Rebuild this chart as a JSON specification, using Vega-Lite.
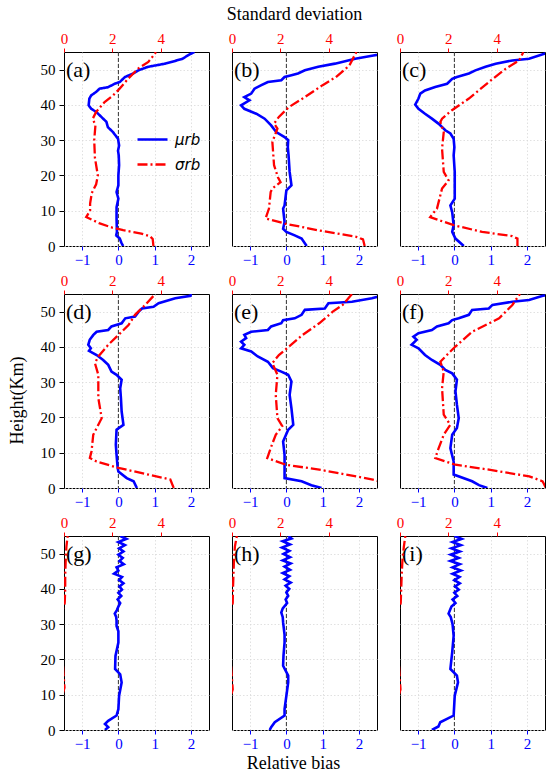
{
"$schema":"https://vega.github.io/schema/vega-lite/v6.json",
"background":"white",
"padding":{"left":7,"top":4,"right":5,"bottom":2},
"config":{"font":"Liberation Serif","view":{"stroke":"black","strokeWidth":1},
"axis":{"labelFont":"Liberation Serif","labelFontSize":15,"titleFont":"Liberation Serif","titleFontSize":18,"titleFontWeight":"normal","titleColor":"black","labelColor":"black","tickColor":"black","tickSize":4,"labelPadding":2,"gridColor":"#d9d9d9","gridDash":[1.5,2],"gridWidth":0.8,"domain":false,"labelFlush":false,"titlePadding":8},
"axisY":{"labelPadding":4,"tickSize":5,"titlePadding":14}},
"datasets":{
"panels":[{"p":"a","t":"(a)"},{"p":"b","t":"(b)"},{"p":"c","t":"(c)"},{"p":"d","t":"(d)"},{"p":"e","t":"(e)"},{"p":"f","t":"(f)"},{"p":"g","t":"(g)"},{"p":"h","t":"(h)"},{"p":"i","t":"(i)"}],
"mu":[
{"p":"a","h":55,"v":2.1},{"p":"a","h":54.5,"v":2.0},{"p":"a","h":53,"v":1.75},{"p":"a","h":51.7,"v":1.29},{"p":"a","h":50.8,"v":0.82},{"p":"a","h":49.8,"v":0.55},{"p":"a","h":48.9,"v":0.41},{"p":"a","h":47.9,"v":0.18},{"p":"a","h":46.5,"v":0.04},{"p":"a","h":46,"v":-0.1},{"p":"a","h":45,"v":-0.29},{"p":"a","h":44.6,"v":-0.52},{"p":"a","h":43.7,"v":-0.61},{"p":"a","h":42.7,"v":-0.75},{"p":"a","h":41.8,"v":-0.8},{"p":"a","h":39.9,"v":-0.82},{"p":"a","h":38.9,"v":-0.75},{"p":"a","h":38,"v":-0.61},{"p":"a","h":36.6,"v":-0.47},{"p":"a","h":35.2,"v":-0.33},{"p":"a","h":33.7,"v":-0.29},{"p":"a","h":32.3,"v":-0.15},{"p":"a","h":30.4,"v":-0.01},{"p":"a","h":28.5,"v":0.02},{"p":"a","h":27,"v":-0.01},{"p":"a","h":25.7,"v":0.01},{"p":"a","h":22.9,"v":0.02},{"p":"a","h":20,"v":0},{"p":"a","h":17.2,"v":0},{"p":"a","h":15.3,"v":-0.05},{"p":"a","h":13.4,"v":0},{"p":"a","h":11,"v":-0.05},{"p":"a","h":7.8,"v":-0.05},{"p":"a","h":4,"v":-0.04},{"p":"a","h":3,"v":-0.06},{"p":"a","h":2.1,"v":0.04},{"p":"a","h":1,"v":0.08},{"p":"a","h":0,"v":0.13},
{"p":"b","h":55,"v":2.9},{"p":"b","h":54,"v":2.4},{"p":"b","h":53.1,"v":1.9},{"p":"b","h":51.7,"v":1.34},{"p":"b","h":50.8,"v":0.88},{"p":"b","h":49.8,"v":0.51},{"p":"b","h":48.9,"v":0.32},{"p":"b","h":48.4,"v":0.14},{"p":"b","h":47.9,"v":-0.05},{"p":"b","h":47,"v":-0.14},{"p":"b","h":46.5,"v":-0.51},{"p":"b","h":45.6,"v":-0.69},{"p":"b","h":44.6,"v":-0.88},{"p":"b","h":43.2,"v":-0.97},{"p":"b","h":42.2,"v":-1.16},{"p":"b","h":41.3,"v":-1.02},{"p":"b","h":39.9,"v":-1.25},{"p":"b","h":38.9,"v":-1.16},{"p":"b","h":37.5,"v":-0.83},{"p":"b","h":36.1,"v":-0.6},{"p":"b","h":34.2,"v":-0.42},{"p":"b","h":32.3,"v":-0.28},{"p":"b","h":30.9,"v":-0.05},{"p":"b","h":30,"v":0.05},{"p":"b","h":28,"v":0.04},{"p":"b","h":25.7,"v":0.06},{"p":"b","h":21,"v":0.09},{"p":"b","h":17.2,"v":0.14},{"p":"b","h":15.8,"v":0},{"p":"b","h":11.5,"v":-0.05},{"p":"b","h":10.6,"v":-0.09},{"p":"b","h":6.8,"v":-0.05},{"p":"b","h":4.9,"v":-0.09},{"p":"b","h":4,"v":0},{"p":"b","h":3,"v":0.23},{"p":"b","h":2.1,"v":0.42},{"p":"b","h":0,"v":0.56},
{"p":"c","h":55,"v":2.8},{"p":"c","h":54.5,"v":2.48},{"p":"c","h":53.1,"v":2.06},{"p":"c","h":52.6,"v":1.6},{"p":"c","h":51.7,"v":1.14},{"p":"c","h":50.8,"v":0.86},{"p":"c","h":49.8,"v":0.58},{"p":"c","h":48.9,"v":0.4},{"p":"c","h":47.9,"v":0.07},{"p":"c","h":47.4,"v":-0.06},{"p":"c","h":46,"v":-0.2},{"p":"c","h":45.1,"v":-0.53},{"p":"c","h":44.1,"v":-0.81},{"p":"c","h":43.2,"v":-0.94},{"p":"c","h":41.8,"v":-0.99},{"p":"c","h":40.1,"v":-1.08},{"p":"c","h":38.9,"v":-0.99},{"p":"c","h":37.5,"v":-0.81},{"p":"c","h":36.1,"v":-0.62},{"p":"c","h":34.7,"v":-0.44},{"p":"c","h":32.8,"v":-0.25},{"p":"c","h":31.9,"v":-0.11},{"p":"c","h":30.4,"v":-0.02},{"p":"c","h":28,"v":0},{"p":"c","h":25.7,"v":-0.02},{"p":"c","h":21,"v":0.01},{"p":"c","h":13.4,"v":0.01},{"p":"c","h":11.5,"v":-0.11},{"p":"c","h":9.6,"v":-0.06},{"p":"c","h":5.9,"v":-0.02},{"p":"c","h":4,"v":-0.06},{"p":"c","h":2.1,"v":0.03},{"p":"c","h":0,"v":0.26},
{"p":"d","h":55,"v":2.0},{"p":"d","h":54.5,"v":1.99},{"p":"d","h":53.8,"v":1.57},{"p":"d","h":52.4,"v":1.11},{"p":"d","h":51.4,"v":0.97},{"p":"d","h":50.9,"v":0.65},{"p":"d","h":50,"v":0.56},{"p":"d","h":48.6,"v":0.46},{"p":"d","h":48.1,"v":0.19},{"p":"d","h":46.7,"v":0.09},{"p":"d","h":45.8,"v":-0.19},{"p":"d","h":44.8,"v":-0.28},{"p":"d","h":44.3,"v":-0.6},{"p":"d","h":43.4,"v":-0.69},{"p":"d","h":42,"v":-0.79},{"p":"d","h":40.6,"v":-0.83},{"p":"d","h":39.6,"v":-0.76},{"p":"d","h":38.9,"v":-0.81},{"p":"d","h":37.7,"v":-0.6},{"p":"d","h":36.3,"v":-0.42},{"p":"d","h":34.9,"v":-0.28},{"p":"d","h":33,"v":-0.19},{"p":"d","h":32.1,"v":-0.05},{"p":"d","h":30.7,"v":0.09},{"p":"d","h":28.3,"v":0.05},{"p":"d","h":25.5,"v":0.07},{"p":"d","h":21.7,"v":0.09},{"p":"d","h":17.9,"v":0.14},{"p":"d","h":16.5,"v":-0.05},{"p":"d","h":12.3,"v":-0.07},{"p":"d","h":9.4,"v":-0.05},{"p":"d","h":5.7,"v":-0.02},{"p":"d","h":4.7,"v":0},{"p":"d","h":2.8,"v":0.23},{"p":"d","h":1.9,"v":0.42},{"p":"d","h":0,"v":0.51},
{"p":"e","h":55,"v":2.8},{"p":"e","h":53.8,"v":2.36},{"p":"e","h":52.8,"v":1.81},{"p":"e","h":52.4,"v":1.16},{"p":"e","h":50.9,"v":1.06},{"p":"e","h":50.5,"v":0.51},{"p":"e","h":49.1,"v":0.42},{"p":"e","h":48.1,"v":0.23},{"p":"e","h":47.6,"v":-0.09},{"p":"e","h":46.7,"v":-0.14},{"p":"e","h":45.8,"v":-0.42},{"p":"e","h":44.8,"v":-0.51},{"p":"e","h":44.3,"v":-0.97},{"p":"e","h":43.4,"v":-1.16},{"p":"e","h":42.5,"v":-1.11},{"p":"e","h":41.5,"v":-1.25},{"p":"e","h":40.6,"v":-1.16},{"p":"e","h":39.6,"v":-1.25},{"p":"e","h":38.7,"v":-0.97},{"p":"e","h":37.3,"v":-0.79},{"p":"e","h":35.8,"v":-0.51},{"p":"e","h":34,"v":-0.37},{"p":"e","h":33,"v":-0.14},{"p":"e","h":32.1,"v":0.05},{"p":"e","h":30.2,"v":0.14},{"p":"e","h":26.4,"v":0.09},{"p":"e","h":22.6,"v":0.14},{"p":"e","h":17.9,"v":0.19},{"p":"e","h":16.5,"v":0.05},{"p":"e","h":13.2,"v":-0.09},{"p":"e","h":9.4,"v":-0.05},{"p":"e","h":4.7,"v":-0.05},{"p":"e","h":2.8,"v":-0.05},{"p":"e","h":1.9,"v":0.42},{"p":"e","h":0.8,"v":0.69},{"p":"e","h":0,"v":0.97},
{"p":"f","h":55,"v":2.8},{"p":"f","h":54.5,"v":2.44},{"p":"f","h":53.3,"v":2.06},{"p":"f","h":52.8,"v":1.6},{"p":"f","h":51.9,"v":1.05},{"p":"f","h":50.9,"v":0.95},{"p":"f","h":50.5,"v":0.49},{"p":"f","h":49.1,"v":0.4},{"p":"f","h":48.1,"v":0.12},{"p":"f","h":47.6,"v":-0.06},{"p":"f","h":46.7,"v":-0.16},{"p":"f","h":45.8,"v":-0.48},{"p":"f","h":44.8,"v":-0.62},{"p":"f","h":43.9,"v":-0.99},{"p":"f","h":42.9,"v":-1.13},{"p":"f","h":42,"v":-1.04},{"p":"f","h":40.6,"v":-1.18},{"p":"f","h":39.6,"v":-0.99},{"p":"f","h":37.7,"v":-0.81},{"p":"f","h":36.3,"v":-0.62},{"p":"f","h":34.9,"v":-0.39},{"p":"f","h":33.5,"v":-0.25},{"p":"f","h":32.5,"v":-0.06},{"p":"f","h":30.7,"v":0.07},{"p":"f","h":27.4,"v":0.03},{"p":"f","h":23.6,"v":0.07},{"p":"f","h":19.8,"v":0.12},{"p":"f","h":17,"v":0.07},{"p":"f","h":15.1,"v":-0.06},{"p":"f","h":11.3,"v":-0.11},{"p":"f","h":7.5,"v":-0.02},{"p":"f","h":3.8,"v":-0.02},{"p":"f","h":1.9,"v":0.49},{"p":"f","h":0.8,"v":0.68},{"p":"f","h":0,"v":0.91},
{"p":"g","h":55,"v":0.05},{"p":"g","h":54.2,"v":0.22},{"p":"g","h":53.3,"v":0.0},{"p":"g","h":52.4,"v":0.18},{"p":"g","h":51.5,"v":0.02},{"p":"g","h":50.6,"v":0.14},{"p":"g","h":49.7,"v":0.0},{"p":"g","h":48.8,"v":0.12},{"p":"g","h":47.9,"v":0.03},{"p":"g","h":47,"v":0.15},{"p":"g","h":46.1,"v":-0.05},{"p":"g","h":45.2,"v":0.0},{"p":"g","h":44.3,"v":-0.12},{"p":"g","h":43.4,"v":0.1},{"p":"g","h":42.5,"v":0.02},{"p":"g","h":41.6,"v":0.14},{"p":"g","h":40.7,"v":0.03},{"p":"g","h":39.8,"v":0.1},{"p":"g","h":38.9,"v":0.0},{"p":"g","h":38,"v":0.08},{"p":"g","h":37,"v":-0.02},{"p":"g","h":36,"v":0.05},{"p":"g","h":35,"v":0.0},{"p":"g","h":34,"v":-0.04},{"p":"g","h":33,"v":-0.1},{"p":"g","h":32,"v":-0.06},{"p":"g","h":31,"v":-0.05},{"p":"g","h":29.5,"v":-0.05},{"p":"g","h":28,"v":0.0},{"p":"g","h":24.8,"v":0.0},{"p":"g","h":21,"v":-0.08},{"p":"g","h":17.3,"v":-0.09},{"p":"g","h":15.8,"v":0.05},{"p":"g","h":13.5,"v":0.09},{"p":"g","h":9.7,"v":0.02},{"p":"g","h":5.9,"v":0.0},{"p":"g","h":4.1,"v":-0.05},{"p":"g","h":2.6,"v":-0.28},{"p":"g","h":1.7,"v":-0.37},{"p":"g","h":0.8,"v":-0.28},{"p":"g","h":0,"v":-0.37},
{"p":"h","h":55,"v":0.05},{"p":"h","h":54.3,"v":0.14},{"p":"h","h":53.5,"v":-0.1},{"p":"h","h":52.6,"v":0.1},{"p":"h","h":51.7,"v":-0.12},{"p":"h","h":50.8,"v":0.08},{"p":"h","h":49.9,"v":-0.08},{"p":"h","h":49,"v":0.1},{"p":"h","h":48.1,"v":-0.1},{"p":"h","h":47.2,"v":0.12},{"p":"h","h":46.3,"v":-0.05},{"p":"h","h":45.4,"v":0.1},{"p":"h","h":44.5,"v":-0.1},{"p":"h","h":43.6,"v":0.08},{"p":"h","h":42.7,"v":-0.05},{"p":"h","h":41.8,"v":0.12},{"p":"h","h":40.9,"v":-0.02},{"p":"h","h":40,"v":0.08},{"p":"h","h":39,"v":0.0},{"p":"h","h":38,"v":0.05},{"p":"h","h":37,"v":-0.02},{"p":"h","h":36,"v":0.02},{"p":"h","h":34.5,"v":-0.1},{"p":"h","h":33.3,"v":-0.14},{"p":"h","h":32,"v":-0.1},{"p":"h","h":30.5,"v":-0.09},{"p":"h","h":27,"v":-0.05},{"p":"h","h":24.8,"v":-0.05},{"p":"h","h":21,"v":-0.08},{"p":"h","h":18.2,"v":-0.09},{"p":"h","h":15.4,"v":0.05},{"p":"h","h":13.5,"v":0.05},{"p":"h","h":9.7,"v":0.0},{"p":"h","h":5.9,"v":-0.05},{"p":"h","h":4.1,"v":-0.05},{"p":"h","h":2.2,"v":-0.32},{"p":"h","h":0.8,"v":-0.42},{"p":"h","h":0,"v":-0.46},
{"p":"i","h":55,"v":0.0},{"p":"i","h":54.2,"v":0.2},{"p":"i","h":53.3,"v":-0.05},{"p":"i","h":52.4,"v":0.18},{"p":"i","h":51.5,"v":-0.08},{"p":"i","h":50.6,"v":0.15},{"p":"i","h":49.7,"v":-0.1},{"p":"i","h":48.8,"v":0.12},{"p":"i","h":47.9,"v":-0.11},{"p":"i","h":47,"v":0.15},{"p":"i","h":46.1,"v":-0.05},{"p":"i","h":45.2,"v":0.18},{"p":"i","h":44.3,"v":-0.05},{"p":"i","h":43.4,"v":0.14},{"p":"i","h":42.5,"v":0.0},{"p":"i","h":41.6,"v":0.15},{"p":"i","h":40.7,"v":0.02},{"p":"i","h":39.8,"v":0.12},{"p":"i","h":38.9,"v":0.0},{"p":"i","h":38,"v":0.08},{"p":"i","h":37,"v":-0.05},{"p":"i","h":36,"v":0.03},{"p":"i","h":35,"v":-0.08},{"p":"i","h":34,"v":-0.12},{"p":"i","h":33,"v":-0.16},{"p":"i","h":32,"v":-0.1},{"p":"i","h":30,"v":-0.05},{"p":"i","h":26.7,"v":-0.02},{"p":"i","h":22,"v":-0.06},{"p":"i","h":17.3,"v":-0.11},{"p":"i","h":15.4,"v":0.07},{"p":"i","h":13.5,"v":0.1},{"p":"i","h":9.7,"v":0.01},{"p":"i","h":4.1,"v":-0.02},{"p":"i","h":2.2,"v":-0.39},{"p":"i","h":1,"v":-0.44},{"p":"i","h":0,"v":-0.62}
],
"sd":[
{"p":"a","h":55,"v":3.8},{"p":"a","h":54.5,"v":3.76},{"p":"a","h":52.2,"v":3.49},{"p":"a","h":50.3,"v":3.07},{"p":"a","h":47.4,"v":2.65},{"p":"a","h":44.6,"v":2.3},{"p":"a","h":42.7,"v":2.03},{"p":"a","h":40.8,"v":1.68},{"p":"a","h":38,"v":1.33},{"p":"a","h":36.1,"v":1.19},{"p":"a","h":34.2,"v":1.3},{"p":"a","h":30,"v":1.25},{"p":"a","h":25,"v":1.28},{"p":"a","h":20,"v":1.4},{"p":"a","h":17.5,"v":1.33},{"p":"a","h":15,"v":1.15},{"p":"a","h":12,"v":1.08},{"p":"a","h":10,"v":1.08},{"p":"a","h":8.2,"v":0.92},{"p":"a","h":6.5,"v":1.45},{"p":"a","h":5.2,"v":2.0},{"p":"a","h":4.5,"v":2.45},{"p":"a","h":3.5,"v":3.2},{"p":"a","h":2.8,"v":3.55},{"p":"a","h":2,"v":3.67},{"p":"a","h":0,"v":3.7},
{"p":"b","h":55,"v":5.15},{"p":"b","h":54,"v":5.07},{"p":"b","h":51.2,"v":4.86},{"p":"b","h":47.9,"v":4.3},{"p":"b","h":45.6,"v":3.75},{"p":"b","h":41.8,"v":2.92},{"p":"b","h":39.4,"v":2.36},{"p":"b","h":36.6,"v":1.94},{"p":"b","h":34.7,"v":1.74},{"p":"b","h":33.3,"v":1.88},{"p":"b","h":29.5,"v":1.67},{"p":"b","h":22.9,"v":1.74},{"p":"b","h":19.5,"v":1.9},{"p":"b","h":18.1,"v":2.01},{"p":"b","h":16.3,"v":1.67},{"p":"b","h":15.3,"v":1.6},{"p":"b","h":10.6,"v":1.53},{"p":"b","h":7.8,"v":1.39},{"p":"b","h":6.3,"v":2.22},{"p":"b","h":4.4,"v":3.61},{"p":"b","h":2.6,"v":5.14},{"p":"b","h":1.9,"v":5.42},{"p":"b","h":0,"v":5.49},
{"p":"c","h":55,"v":5.1},{"p":"c","h":54.5,"v":5.07},{"p":"c","h":52.6,"v":4.93},{"p":"c","h":50.3,"v":4.38},{"p":"c","h":46.5,"v":3.68},{"p":"c","h":41.8,"v":2.85},{"p":"c","h":38.5,"v":2.15},{"p":"c","h":36.1,"v":1.74},{"p":"c","h":35.2,"v":1.67},{"p":"c","h":32.3,"v":1.81},{"p":"c","h":27.6,"v":1.74},{"p":"c","h":21,"v":1.81},{"p":"c","h":18.6,"v":2.01},{"p":"c","h":16.3,"v":1.74},{"p":"c","h":10.6,"v":1.53},{"p":"c","h":8.2,"v":1.25},{"p":"c","h":5.9,"v":2.22},{"p":"c","h":4,"v":3.4},{"p":"c","h":2.8,"v":4.65},{"p":"c","h":2.1,"v":4.86},{"p":"c","h":0,"v":4.86},
{"p":"d","h":55,"v":3.75},{"p":"d","h":54.5,"v":3.71},{"p":"d","h":51.9,"v":3.36},{"p":"d","h":49.1,"v":2.94},{"p":"d","h":46.2,"v":2.67},{"p":"d","h":42.9,"v":2.18},{"p":"d","h":40.6,"v":1.83},{"p":"d","h":37.3,"v":1.42},{"p":"d","h":35.4,"v":1.28},{"p":"d","h":32.1,"v":1.42},{"p":"d","h":25.5,"v":1.42},{"p":"d","h":19.8,"v":1.56},{"p":"d","h":15.1,"v":1.21},{"p":"d","h":10.4,"v":1.14},{"p":"d","h":8.5,"v":1.07},{"p":"d","h":7.5,"v":1.35},{"p":"d","h":5.7,"v":2.25},{"p":"d","h":3.8,"v":3.5},{"p":"d","h":2.4,"v":4.4},{"p":"d","h":0,"v":4.54},
{"p":"e","h":55,"v":4.97},{"p":"e","h":54.7,"v":4.93},{"p":"e","h":51.9,"v":4.58},{"p":"e","h":50,"v":4.17},{"p":"e","h":46.7,"v":3.61},{"p":"e","h":43.4,"v":2.92},{"p":"e","h":40.1,"v":2.36},{"p":"e","h":37.7,"v":1.94},{"p":"e","h":35.4,"v":1.67},{"p":"e","h":32.1,"v":1.88},{"p":"e","h":26.4,"v":1.81},{"p":"e","h":19.8,"v":1.88},{"p":"e","h":17.5,"v":2.08},{"p":"e","h":15.1,"v":1.81},{"p":"e","h":11.3,"v":1.6},{"p":"e","h":8.5,"v":1.46},{"p":"e","h":6.6,"v":2.22},{"p":"e","h":5.2,"v":3.61},{"p":"e","h":3.3,"v":5.14},{"p":"e","h":2.4,"v":5.83},{"p":"e","h":1.5,"v":6.3},{"p":"e","h":0,"v":6.5},
{"p":"f","h":55,"v":4.97},{"p":"f","h":54.7,"v":4.93},{"p":"f","h":51.9,"v":4.65},{"p":"f","h":48.1,"v":4.1},{"p":"f","h":44.3,"v":2.99},{"p":"f","h":40.1,"v":2.29},{"p":"f","h":37.7,"v":1.94},{"p":"f","h":35.8,"v":1.67},{"p":"f","h":33,"v":1.81},{"p":"f","h":28.3,"v":1.74},{"p":"f","h":20.8,"v":1.81},{"p":"f","h":17.9,"v":2.08},{"p":"f","h":15.1,"v":1.81},{"p":"f","h":11.3,"v":1.6},{"p":"f","h":8.5,"v":1.46},{"p":"f","h":6.6,"v":2.29},{"p":"f","h":5.2,"v":3.68},{"p":"f","h":3.3,"v":5.35},{"p":"f","h":1.9,"v":5.9},{"p":"f","h":0,"v":6.04},
{"p":"g","h":55,"v":0.15},{"p":"g","h":52,"v":0.1},{"p":"g","h":48,"v":0.07},{"p":"g","h":44,"v":0.05},{"p":"g","h":40,"v":0.05},{"p":"g","h":36,"v":0.03},{"p":"g","h":34,"v":-0.06},{"p":"g","h":20,"v":-0.06},{"p":"g","h":12,"v":0.02},{"p":"g","h":10,"v":-0.06},{"p":"g","h":0,"v":-0.06},
{"p":"h","h":55,"v":0.2},{"p":"h","h":52,"v":0.12},{"p":"h","h":48,"v":0.08},{"p":"h","h":44,"v":0.06},{"p":"h","h":40,"v":0.04},{"p":"h","h":36,"v":0.03},{"p":"h","h":34,"v":-0.06},{"p":"h","h":20,"v":-0.06},{"p":"h","h":11.5,"v":0.03},{"p":"h","h":9.5,"v":-0.06},{"p":"h","h":0,"v":-0.06},
{"p":"i","h":55,"v":0.22},{"p":"i","h":52,"v":0.16},{"p":"i","h":48,"v":0.1},{"p":"i","h":44,"v":0.07},{"p":"i","h":40,"v":0.05},{"p":"i","h":36,"v":0.03},{"p":"i","h":34,"v":-0.06},{"p":"i","h":20,"v":-0.06},{"p":"i","h":11.5,"v":0.02},{"p":"i","h":9.5,"v":-0.06},{"p":"i","h":0,"v":-0.06}
]},
"columns":3,
"spacing":{"row":48,"column":23},
"bounds":"flush",
"resolve":{"scale":{"color":"independent","strokeDash":"independent"},"legend":{"color":"independent","strokeDash":"independent"}},
"concat":[
{"width":145,"height":194,"layer":[{"layer":[
{"data":{"name":"panels"},"transform":[{"filter":"datum.p==='a'"}],"mark":{"type":"rule","color":"#333333","strokeDash":[4,2],"strokeWidth":1},"encoding":{"x":{"datum":0,"type":"quantitative","scale":{"domain":[-1.5,2.5],"nice":false,"zero":false},"axis":{"orient":"bottom","values":[-1,0,1,2],"labelColor":"#0000ff","tickColor":"#0000ff","grid":true,"title":null}}}},
{"data":{"name":"mu"},"transform":[{"filter":"datum.p==='a'"}],"mark":{"type":"line","clip":true,"strokeWidth":2.6},"encoding":{"x":{"field":"v","type":"quantitative","scale":{"domain":[-1.5,2.5],"nice":false,"zero":false},"axis":{"orient":"bottom","values":[-1,0,1,2],"labelColor":"#0000ff","tickColor":"#0000ff","grid":true,"title":null}},"y":{"field":"h","type":"quantitative","scale":{"domain":[0,55],"nice":false,"zero":false},"axis":{"values":[0,10,20,30,40,50],"grid":true,"title":null}},"order":{"field":"h","type":"quantitative"},
"color":{"datum":"μrb","type":"nominal","scale":{"domain":["μrb","σrb"],"range":["#0000ff","#ff0000"]},"legend":{"title":null,"orient":"none","legendX":72,"legendY":71,"symbolType":"stroke","symbolSize":900,"symbolStrokeWidth":2.5,"labelFont":"DejaVu Sans","labelFontStyle":"italic","labelFontSize":15,"rowPadding":-13,"labelOffset":6}},
"strokeDash":{"datum":"μrb","type":"nominal","scale":{"domain":["μrb","σrb"],"range":[[1,0],[10,3,2,3]]},"legend":{"title":null,"orient":"none","legendX":72,"legendY":71,"symbolType":"stroke","symbolSize":900,"symbolStrokeWidth":2.5,"labelFont":"DejaVu Sans","labelFontStyle":"italic","labelFontSize":15,"rowPadding":-13,"labelOffset":6}}}},
{"data":{"name":"panels"},"transform":[{"filter":"datum.p==='a'"}],"mark":{"type":"text","align":"left","baseline":"top","dx":2,"dy":8,"fontSize":22,"font":"Liberation Serif","color":"black"},"encoding":{"x":{"datum":-1.5,"type":"quantitative","scale":{"domain":[-1.5,2.5],"nice":false,"zero":false},"axis":{"orient":"bottom","values":[-1,0,1,2],"labelColor":"#0000ff","tickColor":"#0000ff","grid":true,"title":null}},"y":{"datum":55,"type":"quantitative","scale":{"domain":[0,55],"nice":false,"zero":false},"axis":{"values":[0,10,20,30,40,50],"grid":true,"title":null}},"text":{"field":"t"}}}
]},
{"data":{"name":"sd"},"transform":[{"filter":"datum.p==='a'"}],"mark":{"type":"line","clip":true,"strokeWidth":2.3},"encoding":{"x":{"field":"v","type":"quantitative","scale":{"domain":[0,6],"nice":false,"zero":false},"axis":{"orient":"top","values":[0,2,4],"labelColor":"#ff0000","tickColor":"#ff0000","grid":false,"title":null}},"y":{"field":"h","type":"quantitative","scale":{"domain":[0,55],"nice":false,"zero":false},"axis":{"values":[0,10,20,30,40,50],"grid":true,"title":null}},"order":{"field":"h","type":"quantitative"},
"color":{"datum":"σrb","type":"nominal","scale":{"domain":["μrb","σrb"],"range":["#0000ff","#ff0000"]},"legend":{"title":null,"orient":"none","legendX":72,"legendY":71,"symbolType":"stroke","symbolSize":900,"symbolStrokeWidth":2.5,"labelFont":"DejaVu Sans","labelFontStyle":"italic","labelFontSize":15,"rowPadding":-13,"labelOffset":6}},
"strokeDash":{"datum":"σrb","type":"nominal","scale":{"domain":["μrb","σrb"],"range":[[1,0],[10,3,2,3]]},"legend":{"title":null,"orient":"none","legendX":72,"legendY":71,"symbolType":"stroke","symbolSize":900,"symbolStrokeWidth":2.5,"labelFont":"DejaVu Sans","labelFontStyle":"italic","labelFontSize":15,"rowPadding":-13,"labelOffset":6}}}}
],"resolve":{"scale":{"x":"independent"}}},

{"width":145,"height":194,"layer":[{"layer":[
{"data":{"name":"panels"},"transform":[{"filter":"datum.p==='b'"}],"mark":{"type":"rule","color":"#333333","strokeDash":[4,2],"strokeWidth":1},"encoding":{"x":{"datum":0,"type":"quantitative","scale":{"domain":[-1.5,2.5],"nice":false,"zero":false},"axis":{"orient":"bottom","values":[-1,0,1,2],"labelColor":"#0000ff","tickColor":"#0000ff","grid":true,"title":null}}}},
{"data":{"name":"mu"},"transform":[{"filter":"datum.p==='b'"}],"mark":{"type":"line","clip":true,"strokeWidth":2.6,"color":"#0000ff"},"encoding":{"x":{"field":"v","type":"quantitative","scale":{"domain":[-1.5,2.5],"nice":false,"zero":false},"axis":{"orient":"bottom","values":[-1,0,1,2],"labelColor":"#0000ff","tickColor":"#0000ff","grid":true,"title":null}},"y":{"field":"h","type":"quantitative","scale":{"domain":[0,55],"nice":false,"zero":false},"axis":{"values":[0,10,20,30,40,50],"grid":true,"title":null,"labels":false,"ticks":false}},"order":{"field":"h","type":"quantitative"}}},
{"data":{"name":"panels"},"transform":[{"filter":"datum.p==='b'"}],"mark":{"type":"text","align":"left","baseline":"top","dx":2,"dy":8,"fontSize":22,"font":"Liberation Serif","color":"black"},"encoding":{"x":{"datum":-1.5,"type":"quantitative","scale":{"domain":[-1.5,2.5],"nice":false,"zero":false},"axis":{"orient":"bottom","values":[-1,0,1,2],"labelColor":"#0000ff","tickColor":"#0000ff","grid":true,"title":null}},"y":{"datum":55,"type":"quantitative","scale":{"domain":[0,55],"nice":false,"zero":false},"axis":{"values":[0,10,20,30,40,50],"grid":true,"title":null,"labels":false,"ticks":false}},"text":{"field":"t"}}}
]},
{"data":{"name":"sd"},"transform":[{"filter":"datum.p==='b'"}],"mark":{"type":"line","clip":true,"strokeWidth":2.3,"color":"#ff0000","strokeDash":[10,3,2,3]},"encoding":{"x":{"field":"v","type":"quantitative","scale":{"domain":[0,6],"nice":false,"zero":false},"axis":{"orient":"top","values":[0,2,4],"labelColor":"#ff0000","tickColor":"#ff0000","grid":false,"title":"Standard deviation","titleX":62,"titleAlign":"center"}},"y":{"field":"h","type":"quantitative","scale":{"domain":[0,55],"nice":false,"zero":false},"axis":{"values":[0,10,20,30,40,50],"grid":true,"title":null,"labels":false,"ticks":false}},"order":{"field":"h","type":"quantitative"}}}
],"resolve":{"scale":{"x":"independent"}}},

{"width":145,"height":194,"layer":[{"layer":[
{"data":{"name":"panels"},"transform":[{"filter":"datum.p==='c'"}],"mark":{"type":"rule","color":"#333333","strokeDash":[4,2],"strokeWidth":1},"encoding":{"x":{"datum":0,"type":"quantitative","scale":{"domain":[-1.5,2.5],"nice":false,"zero":false},"axis":{"orient":"bottom","values":[-1,0,1,2],"labelColor":"#0000ff","tickColor":"#0000ff","grid":true,"title":null}}}},
{"data":{"name":"mu"},"transform":[{"filter":"datum.p==='c'"}],"mark":{"type":"line","clip":true,"strokeWidth":2.6,"color":"#0000ff"},"encoding":{"x":{"field":"v","type":"quantitative","scale":{"domain":[-1.5,2.5],"nice":false,"zero":false},"axis":{"orient":"bottom","values":[-1,0,1,2],"labelColor":"#0000ff","tickColor":"#0000ff","grid":true,"title":null}},"y":{"field":"h","type":"quantitative","scale":{"domain":[0,55],"nice":false,"zero":false},"axis":{"values":[0,10,20,30,40,50],"grid":true,"title":null,"labels":false,"ticks":false}},"order":{"field":"h","type":"quantitative"}}},
{"data":{"name":"panels"},"transform":[{"filter":"datum.p==='c'"}],"mark":{"type":"text","align":"left","baseline":"top","dx":2,"dy":8,"fontSize":22,"font":"Liberation Serif","color":"black"},"encoding":{"x":{"datum":-1.5,"type":"quantitative","scale":{"domain":[-1.5,2.5],"nice":false,"zero":false},"axis":{"orient":"bottom","values":[-1,0,1,2],"labelColor":"#0000ff","tickColor":"#0000ff","grid":true,"title":null}},"y":{"datum":55,"type":"quantitative","scale":{"domain":[0,55],"nice":false,"zero":false},"axis":{"values":[0,10,20,30,40,50],"grid":true,"title":null,"labels":false,"ticks":false}},"text":{"field":"t"}}}
]},
{"data":{"name":"sd"},"transform":[{"filter":"datum.p==='c'"}],"mark":{"type":"line","clip":true,"strokeWidth":2.3,"color":"#ff0000","strokeDash":[10,3,2,3]},"encoding":{"x":{"field":"v","type":"quantitative","scale":{"domain":[0,6],"nice":false,"zero":false},"axis":{"orient":"top","values":[0,2,4],"labelColor":"#ff0000","tickColor":"#ff0000","grid":false,"title":null}},"y":{"field":"h","type":"quantitative","scale":{"domain":[0,55],"nice":false,"zero":false},"axis":{"values":[0,10,20,30,40,50],"grid":true,"title":null,"labels":false,"ticks":false}},"order":{"field":"h","type":"quantitative"}}}
],"resolve":{"scale":{"x":"independent"}}},

{"width":145,"height":194,"layer":[{"layer":[
{"data":{"name":"panels"},"transform":[{"filter":"datum.p==='d'"}],"mark":{"type":"rule","color":"#333333","strokeDash":[4,2],"strokeWidth":1},"encoding":{"x":{"datum":0,"type":"quantitative","scale":{"domain":[-1.5,2.5],"nice":false,"zero":false},"axis":{"orient":"bottom","values":[-1,0,1,2],"labelColor":"#0000ff","tickColor":"#0000ff","grid":true,"title":null}}}},
{"data":{"name":"mu"},"transform":[{"filter":"datum.p==='d'"}],"mark":{"type":"line","clip":true,"strokeWidth":2.6,"color":"#0000ff"},"encoding":{"x":{"field":"v","type":"quantitative","scale":{"domain":[-1.5,2.5],"nice":false,"zero":false},"axis":{"orient":"bottom","values":[-1,0,1,2],"labelColor":"#0000ff","tickColor":"#0000ff","grid":true,"title":null}},"y":{"field":"h","type":"quantitative","scale":{"domain":[0,55],"nice":false,"zero":false},"axis":{"values":[0,10,20,30,40,50],"grid":true,"title":"Height(Km)","titleY":106}},"order":{"field":"h","type":"quantitative"}}},
{"data":{"name":"panels"},"transform":[{"filter":"datum.p==='d'"}],"mark":{"type":"text","align":"left","baseline":"top","dx":2,"dy":8,"fontSize":22,"font":"Liberation Serif","color":"black"},"encoding":{"x":{"datum":-1.5,"type":"quantitative","scale":{"domain":[-1.5,2.5],"nice":false,"zero":false},"axis":{"orient":"bottom","values":[-1,0,1,2],"labelColor":"#0000ff","tickColor":"#0000ff","grid":true,"title":null}},"y":{"datum":55,"type":"quantitative","scale":{"domain":[0,55],"nice":false,"zero":false},"axis":{"values":[0,10,20,30,40,50],"grid":true,"title":"Height(Km)","titleY":106}},"text":{"field":"t"}}}
]},
{"data":{"name":"sd"},"transform":[{"filter":"datum.p==='d'"}],"mark":{"type":"line","clip":true,"strokeWidth":2.3,"color":"#ff0000","strokeDash":[10,3,2,3]},"encoding":{"x":{"field":"v","type":"quantitative","scale":{"domain":[0,6],"nice":false,"zero":false},"axis":{"orient":"top","values":[0,2,4],"labelColor":"#ff0000","tickColor":"#ff0000","grid":false,"title":null}},"y":{"field":"h","type":"quantitative","scale":{"domain":[0,55],"nice":false,"zero":false},"axis":{"values":[0,10,20,30,40,50],"grid":true,"title":"Height(Km)","titleY":106}},"order":{"field":"h","type":"quantitative"}}}
],"resolve":{"scale":{"x":"independent"}}},

{"width":145,"height":194,"layer":[{"layer":[
{"data":{"name":"panels"},"transform":[{"filter":"datum.p==='e'"}],"mark":{"type":"rule","color":"#333333","strokeDash":[4,2],"strokeWidth":1},"encoding":{"x":{"datum":0,"type":"quantitative","scale":{"domain":[-1.5,2.5],"nice":false,"zero":false},"axis":{"orient":"bottom","values":[-1,0,1,2],"labelColor":"#0000ff","tickColor":"#0000ff","grid":true,"title":null}}}},
{"data":{"name":"mu"},"transform":[{"filter":"datum.p==='e'"}],"mark":{"type":"line","clip":true,"strokeWidth":2.6,"color":"#0000ff"},"encoding":{"x":{"field":"v","type":"quantitative","scale":{"domain":[-1.5,2.5],"nice":false,"zero":false},"axis":{"orient":"bottom","values":[-1,0,1,2],"labelColor":"#0000ff","tickColor":"#0000ff","grid":true,"title":null}},"y":{"field":"h","type":"quantitative","scale":{"domain":[0,55],"nice":false,"zero":false},"axis":{"values":[0,10,20,30,40,50],"grid":true,"title":null,"labels":false,"ticks":false}},"order":{"field":"h","type":"quantitative"}}},
{"data":{"name":"panels"},"transform":[{"filter":"datum.p==='e'"}],"mark":{"type":"text","align":"left","baseline":"top","dx":2,"dy":8,"fontSize":22,"font":"Liberation Serif","color":"black"},"encoding":{"x":{"datum":-1.5,"type":"quantitative","scale":{"domain":[-1.5,2.5],"nice":false,"zero":false},"axis":{"orient":"bottom","values":[-1,0,1,2],"labelColor":"#0000ff","tickColor":"#0000ff","grid":true,"title":null}},"y":{"datum":55,"type":"quantitative","scale":{"domain":[0,55],"nice":false,"zero":false},"axis":{"values":[0,10,20,30,40,50],"grid":true,"title":null,"labels":false,"ticks":false}},"text":{"field":"t"}}}
]},
{"data":{"name":"sd"},"transform":[{"filter":"datum.p==='e'"}],"mark":{"type":"line","clip":true,"strokeWidth":2.3,"color":"#ff0000","strokeDash":[10,3,2,3]},"encoding":{"x":{"field":"v","type":"quantitative","scale":{"domain":[0,6],"nice":false,"zero":false},"axis":{"orient":"top","values":[0,2,4],"labelColor":"#ff0000","tickColor":"#ff0000","grid":false,"title":null}},"y":{"field":"h","type":"quantitative","scale":{"domain":[0,55],"nice":false,"zero":false},"axis":{"values":[0,10,20,30,40,50],"grid":true,"title":null,"labels":false,"ticks":false}},"order":{"field":"h","type":"quantitative"}}}
],"resolve":{"scale":{"x":"independent"}}},

{"width":145,"height":194,"layer":[{"layer":[
{"data":{"name":"panels"},"transform":[{"filter":"datum.p==='f'"}],"mark":{"type":"rule","color":"#333333","strokeDash":[4,2],"strokeWidth":1},"encoding":{"x":{"datum":0,"type":"quantitative","scale":{"domain":[-1.5,2.5],"nice":false,"zero":false},"axis":{"orient":"bottom","values":[-1,0,1,2],"labelColor":"#0000ff","tickColor":"#0000ff","grid":true,"title":null}}}},
{"data":{"name":"mu"},"transform":[{"filter":"datum.p==='f'"}],"mark":{"type":"line","clip":true,"strokeWidth":2.6,"color":"#0000ff"},"encoding":{"x":{"field":"v","type":"quantitative","scale":{"domain":[-1.5,2.5],"nice":false,"zero":false},"axis":{"orient":"bottom","values":[-1,0,1,2],"labelColor":"#0000ff","tickColor":"#0000ff","grid":true,"title":null}},"y":{"field":"h","type":"quantitative","scale":{"domain":[0,55],"nice":false,"zero":false},"axis":{"values":[0,10,20,30,40,50],"grid":true,"title":null,"labels":false,"ticks":false}},"order":{"field":"h","type":"quantitative"}}},
{"data":{"name":"panels"},"transform":[{"filter":"datum.p==='f'"}],"mark":{"type":"text","align":"left","baseline":"top","dx":2,"dy":8,"fontSize":22,"font":"Liberation Serif","color":"black"},"encoding":{"x":{"datum":-1.5,"type":"quantitative","scale":{"domain":[-1.5,2.5],"nice":false,"zero":false},"axis":{"orient":"bottom","values":[-1,0,1,2],"labelColor":"#0000ff","tickColor":"#0000ff","grid":true,"title":null}},"y":{"datum":55,"type":"quantitative","scale":{"domain":[0,55],"nice":false,"zero":false},"axis":{"values":[0,10,20,30,40,50],"grid":true,"title":null,"labels":false,"ticks":false}},"text":{"field":"t"}}}
]},
{"data":{"name":"sd"},"transform":[{"filter":"datum.p==='f'"}],"mark":{"type":"line","clip":true,"strokeWidth":2.3,"color":"#ff0000","strokeDash":[10,3,2,3]},"encoding":{"x":{"field":"v","type":"quantitative","scale":{"domain":[0,6],"nice":false,"zero":false},"axis":{"orient":"top","values":[0,2,4],"labelColor":"#ff0000","tickColor":"#ff0000","grid":false,"title":null}},"y":{"field":"h","type":"quantitative","scale":{"domain":[0,55],"nice":false,"zero":false},"axis":{"values":[0,10,20,30,40,50],"grid":true,"title":null,"labels":false,"ticks":false}},"order":{"field":"h","type":"quantitative"}}}
],"resolve":{"scale":{"x":"independent"}}},

{"width":145,"height":194,"layer":[{"layer":[
{"data":{"name":"panels"},"transform":[{"filter":"datum.p==='g'"}],"mark":{"type":"rule","color":"#333333","strokeDash":[4,2],"strokeWidth":1},"encoding":{"x":{"datum":0,"type":"quantitative","scale":{"domain":[-1.5,2.5],"nice":false,"zero":false},"axis":{"orient":"bottom","values":[-1,0,1,2],"labelColor":"#0000ff","tickColor":"#0000ff","grid":true,"title":null}}}},
{"data":{"name":"mu"},"transform":[{"filter":"datum.p==='g'"}],"mark":{"type":"line","clip":true,"strokeWidth":2.6,"color":"#0000ff"},"encoding":{"x":{"field":"v","type":"quantitative","scale":{"domain":[-1.5,2.5],"nice":false,"zero":false},"axis":{"orient":"bottom","values":[-1,0,1,2],"labelColor":"#0000ff","tickColor":"#0000ff","grid":true,"title":null}},"y":{"field":"h","type":"quantitative","scale":{"domain":[0,55],"nice":false,"zero":false},"axis":{"values":[0,10,20,30,40,50],"grid":true,"title":null}},"order":{"field":"h","type":"quantitative"}}},
{"data":{"name":"panels"},"transform":[{"filter":"datum.p==='g'"}],"mark":{"type":"text","align":"left","baseline":"top","dx":2,"dy":8,"fontSize":22,"font":"Liberation Serif","color":"black"},"encoding":{"x":{"datum":-1.5,"type":"quantitative","scale":{"domain":[-1.5,2.5],"nice":false,"zero":false},"axis":{"orient":"bottom","values":[-1,0,1,2],"labelColor":"#0000ff","tickColor":"#0000ff","grid":true,"title":null}},"y":{"datum":55,"type":"quantitative","scale":{"domain":[0,55],"nice":false,"zero":false},"axis":{"values":[0,10,20,30,40,50],"grid":true,"title":null}},"text":{"field":"t"}}}
]},
{"data":{"name":"sd"},"transform":[{"filter":"datum.p==='g'"}],"mark":{"type":"line","clip":true,"strokeWidth":2.3,"color":"#ff0000","strokeDash":[10,3,2,3]},"encoding":{"x":{"field":"v","type":"quantitative","scale":{"domain":[0,6],"nice":false,"zero":false},"axis":{"orient":"top","values":[0,2,4],"labelColor":"#ff0000","tickColor":"#ff0000","grid":false,"title":null}},"y":{"field":"h","type":"quantitative","scale":{"domain":[0,55],"nice":false,"zero":false},"axis":{"values":[0,10,20,30,40,50],"grid":true,"title":null}},"order":{"field":"h","type":"quantitative"}}}
],"resolve":{"scale":{"x":"independent"}}},

{"width":145,"height":194,"layer":[{"layer":[
{"data":{"name":"panels"},"transform":[{"filter":"datum.p==='h'"}],"mark":{"type":"rule","color":"#333333","strokeDash":[4,2],"strokeWidth":1},"encoding":{"x":{"datum":0,"type":"quantitative","scale":{"domain":[-1.5,2.5],"nice":false,"zero":false},"axis":{"orient":"bottom","values":[-1,0,1,2],"labelColor":"#0000ff","tickColor":"#0000ff","grid":true,"title":"Relative bias","titleX":61,"titleAlign":"center","titlePadding":3}}}},
{"data":{"name":"mu"},"transform":[{"filter":"datum.p==='h'"}],"mark":{"type":"line","clip":true,"strokeWidth":2.6,"color":"#0000ff"},"encoding":{"x":{"field":"v","type":"quantitative","scale":{"domain":[-1.5,2.5],"nice":false,"zero":false},"axis":{"orient":"bottom","values":[-1,0,1,2],"labelColor":"#0000ff","tickColor":"#0000ff","grid":true,"title":"Relative bias","titleX":61,"titleAlign":"center","titlePadding":3}},"y":{"field":"h","type":"quantitative","scale":{"domain":[0,55],"nice":false,"zero":false},"axis":{"values":[0,10,20,30,40,50],"grid":true,"title":null,"labels":false,"ticks":false}},"order":{"field":"h","type":"quantitative"}}},
{"data":{"name":"panels"},"transform":[{"filter":"datum.p==='h'"}],"mark":{"type":"text","align":"left","baseline":"top","dx":2,"dy":8,"fontSize":22,"font":"Liberation Serif","color":"black"},"encoding":{"x":{"datum":-1.5,"type":"quantitative","scale":{"domain":[-1.5,2.5],"nice":false,"zero":false},"axis":{"orient":"bottom","values":[-1,0,1,2],"labelColor":"#0000ff","tickColor":"#0000ff","grid":true,"title":"Relative bias","titleX":61,"titleAlign":"center","titlePadding":3}},"y":{"datum":55,"type":"quantitative","scale":{"domain":[0,55],"nice":false,"zero":false},"axis":{"values":[0,10,20,30,40,50],"grid":true,"title":null,"labels":false,"ticks":false}},"text":{"field":"t"}}}
]},
{"data":{"name":"sd"},"transform":[{"filter":"datum.p==='h'"}],"mark":{"type":"line","clip":true,"strokeWidth":2.3,"color":"#ff0000","strokeDash":[10,3,2,3]},"encoding":{"x":{"field":"v","type":"quantitative","scale":{"domain":[0,6],"nice":false,"zero":false},"axis":{"orient":"top","values":[0,2,4],"labelColor":"#ff0000","tickColor":"#ff0000","grid":false,"title":null}},"y":{"field":"h","type":"quantitative","scale":{"domain":[0,55],"nice":false,"zero":false},"axis":{"values":[0,10,20,30,40,50],"grid":true,"title":null,"labels":false,"ticks":false}},"order":{"field":"h","type":"quantitative"}}}
],"resolve":{"scale":{"x":"independent"}}},

{"width":145,"height":194,"layer":[{"layer":[
{"data":{"name":"panels"},"transform":[{"filter":"datum.p==='i'"}],"mark":{"type":"rule","color":"#333333","strokeDash":[4,2],"strokeWidth":1},"encoding":{"x":{"datum":0,"type":"quantitative","scale":{"domain":[-1.5,2.5],"nice":false,"zero":false},"axis":{"orient":"bottom","values":[-1,0,1,2],"labelColor":"#0000ff","tickColor":"#0000ff","grid":true,"title":null}}}},
{"data":{"name":"mu"},"transform":[{"filter":"datum.p==='i'"}],"mark":{"type":"line","clip":true,"strokeWidth":2.6,"color":"#0000ff"},"encoding":{"x":{"field":"v","type":"quantitative","scale":{"domain":[-1.5,2.5],"nice":false,"zero":false},"axis":{"orient":"bottom","values":[-1,0,1,2],"labelColor":"#0000ff","tickColor":"#0000ff","grid":true,"title":null}},"y":{"field":"h","type":"quantitative","scale":{"domain":[0,55],"nice":false,"zero":false},"axis":{"values":[0,10,20,30,40,50],"grid":true,"title":null,"labels":false,"ticks":false}},"order":{"field":"h","type":"quantitative"}}},
{"data":{"name":"panels"},"transform":[{"filter":"datum.p==='i'"}],"mark":{"type":"text","align":"left","baseline":"top","dx":2,"dy":8,"fontSize":22,"font":"Liberation Serif","color":"black"},"encoding":{"x":{"datum":-1.5,"type":"quantitative","scale":{"domain":[-1.5,2.5],"nice":false,"zero":false},"axis":{"orient":"bottom","values":[-1,0,1,2],"labelColor":"#0000ff","tickColor":"#0000ff","grid":true,"title":null}},"y":{"datum":55,"type":"quantitative","scale":{"domain":[0,55],"nice":false,"zero":false},"axis":{"values":[0,10,20,30,40,50],"grid":true,"title":null,"labels":false,"ticks":false}},"text":{"field":"t"}}}
]},
{"data":{"name":"sd"},"transform":[{"filter":"datum.p==='i'"}],"mark":{"type":"line","clip":true,"strokeWidth":2.3,"color":"#ff0000","strokeDash":[10,3,2,3]},"encoding":{"x":{"field":"v","type":"quantitative","scale":{"domain":[0,6],"nice":false,"zero":false},"axis":{"orient":"top","values":[0,2,4],"labelColor":"#ff0000","tickColor":"#ff0000","grid":false,"title":null}},"y":{"field":"h","type":"quantitative","scale":{"domain":[0,55],"nice":false,"zero":false},"axis":{"values":[0,10,20,30,40,50],"grid":true,"title":null,"labels":false,"ticks":false}},"order":{"field":"h","type":"quantitative"}}}
],"resolve":{"scale":{"x":"independent"}}}
]
}
